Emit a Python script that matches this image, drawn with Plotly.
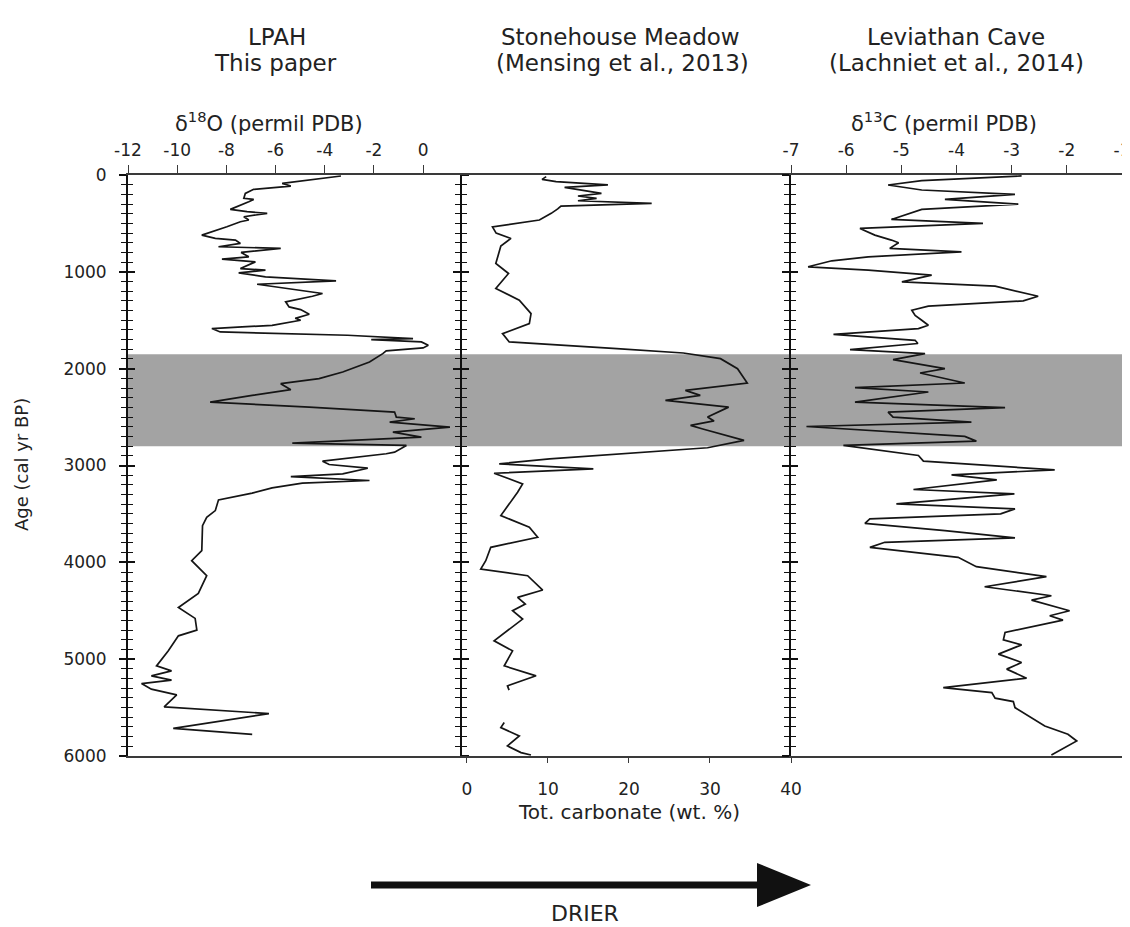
import plotly.graph_objects as go

# ---------------- data ----------------
lpah_age = [10, 86, 114, 148, 190, 241, 252, 276, 355, 379, 396, 431, 465, 483, 535, 621, 655, 672, 707,
            741, 758, 800, 845, 869, 897, 966, 983, 1010, 1052, 1093, 1128, 1207, 1224, 1252, 1310, 1362,
            1390, 1438, 1459, 1480, 1500, 1517, 1552, 1569, 1586, 1621, 1655, 1690, 1700, 1724, 1759, 1786,
            1817, 1845, 1931, 2034, 2103, 2155, 2217, 2276, 2345, 2397, 2431, 2448, 2500, 2517, 2552, 2603,
            2655, 2707, 2769, 2793, 2862, 2879, 2955, 2990, 3028, 3086, 3114, 3155, 3183, 3231, 3286, 3355,
            3466, 3535, 3621, 3879, 3983, 4138, 4321, 4466, 4579, 4700, 4759, 4914, 5069, 5121, 5172, 5217,
            5252, 5310, 5369, 5493, 5562, 5714, 5776]
lpah_d18o = [-3.34, -5.73, -5.38, -6.89, -7.23, -7.29, -6.89, -7.09, -7.84, -7.16, -6.34, -7.29, -7.09,
             -7.43, -7.98, -9.0, -8.45, -7.63, -7.43, -8.32, -5.79, -7.4, -7.09, -8.18, -6.82, -7.43, -6.41,
             -7.5, -6.41, -3.54, -6.75, -4.63, -4.09, -4.5, -5.59, -5.45, -4.98, -4.63, -4.98, -5.2, -4.98,
             -5.38, -6.14, -7.36, -8.59, -8.25, -3.07, -0.41, -2.11, -0.07, 0.21, 0.0, -1.5, -1.64, -2.18,
             -3.27, -4.23, -5.79, -5.38, -6.95, -8.66, -4.63, -2.31, -1.16, -1.09, -0.34, -1.36, 1.09, -1.23,
             -0.07, -5.32, -0.68, -1.16, -1.5, -4.09, -3.82, -2.25, -3.27, -5.38, -2.18, -4.91, -6.14, -6.95,
             -8.32, -8.45, -8.8, -8.97, -9.0, -9.41, -8.8, -9.14, -9.95, -9.27, -9.2, -9.95, -10.36, -10.84,
             -10.23, -11.05, -10.23, -11.45, -11.05, -10.02, -10.53, -6.27, -10.16, -6.95]

stone_age = [17, 45, 69, 103, 128, 160, 190, 217, 241, 266, 293, 321, 350, 396, 465, 535, 600, 655, 734,
             914, 1017, 1172, 1293, 1431, 1534, 1638, 1724, 1793, 1838, 1897, 2000, 2148, 2224, 2276, 2328,
             2397, 2500, 2540, 2586, 2621, 2741, 2817, 2872, 2931, 2983, 3034, 3080, 3190, 3276, 3517, 3638,
             3741, 3845, 3983, 4069, 4138, 4286, 4362, 4431, 4500, 4586, 4810, 4914, 5069, 5172, 5276, 5320,
             None, 5655, 5707, 5793, 5896, 5965, 5990]
stone_carb = [9.78, 9.27, 11.0, 17.4, 12.05, 14.5, 16.6, 13.7, 16.0, 13.7, 22.8, 11.6, 11.2, 10.4, 8.94,
              3.15, 3.6, 5.43, 4.18, 3.56, 5.13, 3.56, 6.46, 7.91, 7.7, 4.39, 5.22, 18.5, 26.7, 31.3, 33.4,
              34.6, 26.96, 28.8, 24.5, 32.3, 29.7, 30.5, 27.6, 29.0, 34.2, 29.7, 19.7, 10.2, 3.98, 15.6, 3.35,
              6.87, 6.25, 4.18, 7.7, 8.73, 2.94, 2.32, 1.70, 7.49, 9.35, 6.25, 7.2, 5.63, 6.87, 3.35, 5.63,
              4.6, 8.53, 5.0, 5.2, None, 4.6, 4.18, 6.46, 5.0, 6.67, 7.9]

lev_age = [10, 59, 103, 155, 200, 252, 300, 355, 459, 500, 552, 621, 672, 700, 758, 793, 845, 886, 948,
           983, 1034, 1103, 1148, 1252, 1300, 1355, 1397, 1450, 1500, 1552, 1586, 1645, 1707, 1740, 1803,
           1845, 1907, 2000, 2045, 2148, 2196, 2241, 2345, 2403, 2448, 2500, 2552, 2597, 2700, 2748, 2793,
           2897, 2955, 3045, 3097, 3148, 3248, 3293, 3397, 3448, 3500, 3552, 3597, 3672, 3748, 3793, 3845,
           3948, 4045, 4148, 4252, 4345, 4390, 4500, 4552, 4597, 4724, 4800, 4852, 4948, 5034, 5103, 5196,
           5293, 5345, 5403, 5438, 5500, 5690, 5776, 5845, 5896, 5990]
lev_d13c = [-2.82, -4.63, -5.24, -4.63, -2.94, -4.21, -2.88, -4.63, -5.18, -3.52, -5.75, -5.48, -5.18,
            -5.05, -5.21, -3.91, -5.6, -6.26, -6.69, -5.6, -4.45, -4.99, -3.30, -2.52, -2.79, -4.51, -4.81,
            -4.75, -4.63, -4.51, -4.69, -6.23, -4.75, -4.7, -5.93, -4.57, -5.15, -4.21, -4.66, -3.85, -5.84,
            -4.51, -5.84, -3.12, -5.24, -5.15, -3.73, -6.72, -3.85, -3.64, -6.05, -4.69, -4.6, -2.22, -4.09,
            -3.27, -4.78, -2.95, -5.09, -2.94, -3.2, -5.57, -5.66, -4.21, -2.94, -5.3, -5.57, -3.97, -3.64,
            -2.37, -3.49, -2.28, -2.64, -1.95, -2.31, -2.07, -3.12, -3.15, -2.82, -3.24, -2.82, -3.09, -2.73,
            -4.24, -3.36, -3.3, -2.97, -2.94, -2.40, -1.98, -1.82, -1.98, -2.28]

band_age = [1850, 2800]

age_ticks = [0, 1000, 2000, 3000, 4000, 5000, 6000]
d18o_ticks = [-12, -10, -8, -6, -4, -2, 0]
carb_ticks = [0, 10, 20, 30, 40]
d13c_ticks = [-7, -6, -5, -4, -3, -2, -1]
d18o_labels = [str(v) for v in d18o_ticks]
d13c_labels = [str(v) for v in d13c_ticks]

titles = [("LPAH", "This paper"), ("Stonehouse Meadow", "(Mensing et al., 2013)"),
          ("Leviathan Cave", "(Lachniet et al., 2014)")]

# ---------------- layout geometry ----------------
# the page has an 8 px body margin; figure pixels = page pixels - 8
OFF = 8
W, H = 1122, 919
ML, MR, MT, MB = 120, 8, 167, 171
PW = W - ML - MR
PH = H - MT - MB
FONT = "'DejaVu Sans', Verdana, Arial, sans-serif"
TXT = "#222222"


def px(xp):
    return (xp - OFF - ML) / PW


def py(yp):
    return (H - MB - (yp - OFF)) / PH


d1 = [0, px(460)]
d2 = [px(460), px(791)]
d3 = [px(791), 1]

LINE = dict(color="#151515", width=1.7)

fig = go.Figure()
fig.add_trace(go.Scatter(x=lpah_d18o, y=lpah_age, mode="lines", line=LINE, xaxis="x", yaxis="y",
                         showlegend=False))
fig.add_trace(go.Scatter(x=stone_carb, y=stone_age, mode="lines", line=LINE, xaxis="x2", yaxis="y",
                         showlegend=False, connectgaps=False))
fig.add_trace(go.Scatter(x=lev_d13c, y=lev_age, mode="lines", line=LINE, xaxis="x3", yaxis="y",
                         showlegend=False))
# invisible traces to bind helper axes
for xa, ya in [("x", "y4"), ("x3", "y2"), ("x3", "y3")]:
    fig.add_trace(go.Scatter(x=[None], y=[None], xaxis=xa, yaxis=ya, showlegend=False, hoverinfo="skip"))

axcol = "#3a3a3a"
TICKFONT = dict(family=FONT, size=17, color=TXT)
common_x = dict(showgrid=False, zeroline=False, showline=True, linecolor=axcol, linewidth=1.5,
                mirror=True, tickcolor=axcol, tickwidth=1.3, anchor="y", tickfont=TICKFONT,
                ticklabeloverflow="allow")

fig.update_layout(
    width=W, height=H, margin=dict(l=ML, r=MR, t=MT, b=MB, autoexpand=False),
    paper_bgcolor="white", plot_bgcolor="white",
    xaxis=dict(domain=d1, side="top", range=[-12, 1.5], tickmode="array", tickvals=d18o_ticks,
               ticktext=d18o_labels, ticks="outside", ticklen=8, ticklabelstandoff=2, **common_x),
    xaxis2=dict(domain=d2, side="bottom", range=[-0.86, 40], tickmode="array", tickvals=carb_ticks,
                ticks="outside", ticklen=5, ticklabelstandoff=12, **common_x),
    xaxis3=dict(domain=d3, side="top", range=[-7, -1], tickmode="array", tickvals=d13c_ticks,
                ticktext=d13c_labels, ticks="outside", ticklen=8, ticklabelstandoff=2, **common_x),
)

ycommon = dict(range=[6000, 0], tickmode="array", tickvals=age_ticks, showgrid=False, zeroline=False,
               showline=True, linecolor="#111111", linewidth=1.8, tickcolor="#111111", tickwidth=1.5,
               ticklen=7)
MINOR_OUT = dict(dtick=100, ticks="outside", ticklen=5, tickcolor="#111111", tickwidth=1.2)
MINOR_IN = dict(dtick=100, ticks="inside", ticklen=5, tickcolor="#111111", tickwidth=1.2)
fig.update_layout(
    yaxis=dict(domain=[0, 1], anchor="x", ticks="outside", mirror="ticks", minor=MINOR_OUT,
               tickfont=TICKFONT, ticklabelstandoff=9, **ycommon),
    yaxis4=dict(overlaying="y", anchor="x", ticks="inside", mirror="ticks", showticklabels=False,
                minor=MINOR_IN, **ycommon),
    yaxis2=dict(overlaying="y", anchor="x3", side="left", ticks="outside", mirror=True,
                showticklabels=False, minor=MINOR_OUT, **ycommon),
    yaxis3=dict(overlaying="y", anchor="x3", side="left", ticks="inside", showticklabels=False,
                minor=MINOR_IN, **ycommon),
)

# shaded interval
fig.add_shape(type="rect", xref="paper", yref="y", x0=0, x1=1, y0=band_age[0], y1=band_age[1],
              fillcolor="#a3a3a3", line=dict(width=0), layer="below")

# arrow (decoration)
pts = [(371, 881.5), (757, 881.5), (757, 863), (811, 885), (757, 907), (757, 888.5), (371, 888.5)]
path = "M " + " L ".join(f"{px(a):.5f},{py(b):.5f}" for a, b in pts) + " Z"
fig.add_shape(type="path", xref="paper", yref="paper", path=path, fillcolor="#111111",
              line=dict(width=0))


def ann(text, xp, yp, size, angle=0):
    fig.add_annotation(text=text, x=px(xp), y=py(yp), xref="paper", yref="paper", showarrow=False,
                       xanchor="center", yanchor="middle", textangle=angle,
                       font=dict(family=FONT, size=size, color=TXT))


centers = [(277, 275), (620, 622), (956, 956)]
for (t1, t2), (c1, c2) in zip(titles, centers):
    ann(t1, c1, 37, 23)
    ann(t2, c2, 63, 23)

ann("δ<sup>18</sup>O (permil PDB)", 269, 122, 21)
ann("δ<sup>13</sup>C (permil PDB)", 944, 122, 21)
ann("Tot. carbonate (wt. %)", 629, 812, 20)
ann("Age (cal yr BP)", 21, 465, 18, angle=-90)
ann("DRIER", 585, 913, 22)

fig.write_html("out.html")
